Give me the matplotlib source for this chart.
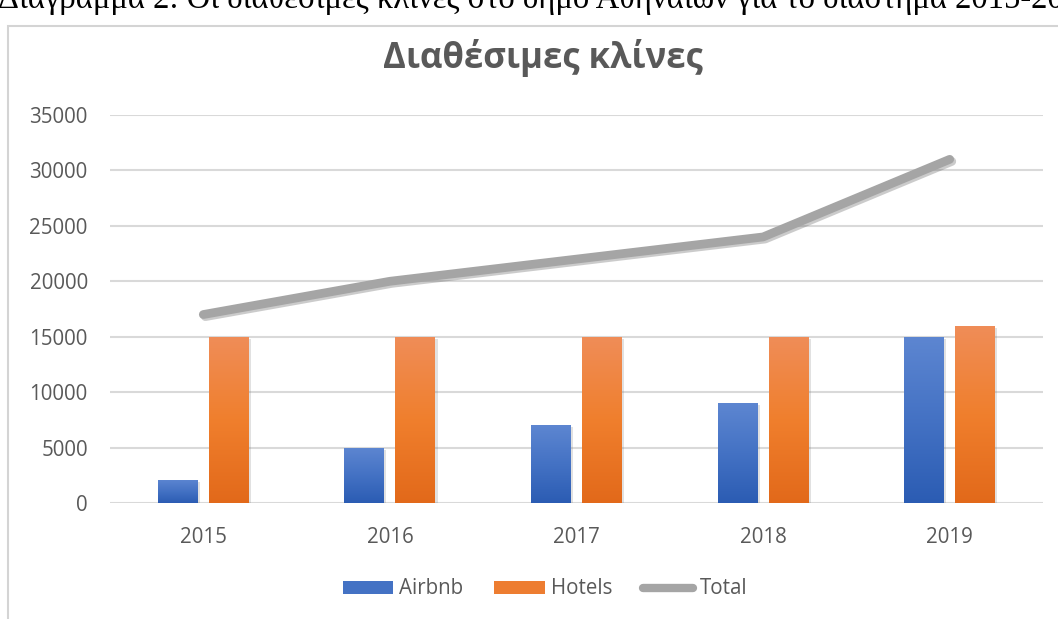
import numpy as np
import matplotlib
matplotlib.use("Agg")
import matplotlib.pyplot as plt
from matplotlib.patches import Rectangle, Patch
from matplotlib.lines import Line2D
from matplotlib.colors import LinearSegmentedColormap
import matplotlib.patheffects as pe

# ---- data ----
years = ["2015", "2016", "2017", "2018", "2019"]
airbnb = [2100, 5000, 7000, 9000, 15000]
hotels = [15000, 15000, 15000, 15000, 16000]
total = [17000, 20000, 22000, 24000, 31000]
yticks = [0, 5000, 10000, 15000, 20000, 25000, 30000, 35000]
title = "Διαθέσιμες κλίνες"
caption = "Διάγραμμα 2: Οι διαθέσιμες κλίνες στο δήμο Αθηναίων για το διάστημα 2015-2019"
series_names = ["Airbnb", "Hotels", "Total"]

W, H = 1058, 619
fig = plt.figure(figsize=(W / 100, H / 100), dpi=100)
fig.patch.set_facecolor("white")

def fx(px):
    return px / W

def fy(py):
    return 1 - py / H

# chart frame
frame = Rectangle((fx(8), fy(H + 30)), fx(W + 40), (H + 30 - 26) / H,
                  transform=fig.transFigure, facecolor="white",
                  edgecolor="#d4d4d4", linewidth=1.5, zorder=-5)
fig.patches.append(frame)

# caption (cut off at top, as in the source document)
fig.text(fx(-2), fy(8), caption, family="Liberation Serif", fontsize=23.5,
         color="black", ha="left", va="baseline", zorder=1)

ax = fig.add_axes([fx(110), fy(503), fx(1043 - 110), (503 - 115) / H])
ax.set_facecolor("none")
ax.set_zorder(2)

x = np.arange(len(years))
bw = 0.214
off = 0.137

blue_cmap = LinearSegmentedColormap.from_list("b", ["#2b5cb3", "#4472c4", "#5d86d1"])
orange_cmap = LinearSegmentedColormap.from_list("o", ["#e2691a", "#f07f2d", "#ef8d58"])
grad = np.linspace(0, 1, 256).reshape(-1, 1)

shadow = [pe.SimplePatchShadow(offset=(1.5, -1.5), alpha=0.22, shadow_rgbFace="#777777"), pe.Normal()]

bars_a = ax.bar(x - off, airbnb, width=bw, color="#4472c4", zorder=3,
                path_effects=shadow)
bars_h = ax.bar(x + off, hotels, width=bw, color="#ed7d31", zorder=3,
                path_effects=shadow)

for bars, cmap in ((bars_a, blue_cmap), (bars_h, orange_cmap)):
    for b in bars:
        x0, y0 = b.get_x(), b.get_y()
        im = ax.imshow(grad, cmap=cmap, origin="lower", aspect="auto",
                       extent=(x0, x0 + b.get_width(), y0, y0 + b.get_height()),
                       zorder=3.5)
        im.set_clip_path(b)

ax.plot(x, total, color="#a5a5a5", linewidth=6.3, solid_capstyle="round",
        solid_joinstyle="round", zorder=4,
        path_effects=[pe.SimpleLineShadow(offset=(1.5, -1.5), alpha=0.3,
                                          shadow_color="#555555"), pe.Normal()])

ax.set_xlim(-0.5, len(years) - 0.5)
ax.set_ylim(0, 35000)
ax.set_yticks(yticks)
ax.set_yticklabels([str(v) for v in yticks])
ax.set_xticks(x)
ax.set_xticklabels(years)
ax.grid(axis="y", color="#d9d9d9", linewidth=1.5, zorder=0)
ax.set_axisbelow(True)
for s in ax.spines.values():
    s.set_visible(False)
ax.tick_params(axis="both", length=0, colors="#595959", labelsize=14.8)
ax.tick_params(axis="y", pad=16)
ax.tick_params(axis="x", pad=17)
for lab in ax.get_xticklabels() + ax.get_yticklabels():
    lab.set_family("Open Sans")

fig.text(fx(543), fy(68), title, family="Open Sans", fontweight="bold",
         fontsize=25, color="#595959", ha="center", va="baseline", zorder=3)

handles = [Patch(facecolor="#4472c4", edgecolor="none"),
           Patch(facecolor="#ed7d31", edgecolor="none"),
           Line2D([0], [0], color="#a5a5a5", linewidth=6, solid_capstyle="round")]
leg = fig.legend(handles, series_names, loc="center", bbox_to_anchor=(fx(545), fy(589)),
                 ncol=3, frameon=False, handlelength=2.45, handleheight=0.6,
                 handletextpad=0.3, columnspacing=1.5,
                 prop={"family": "Open Sans", "size": 14.8})
leg.set_zorder(3)
for t in leg.get_texts():
    t.set_color("#595959")

fig.savefig("out.png", dpi=100)
